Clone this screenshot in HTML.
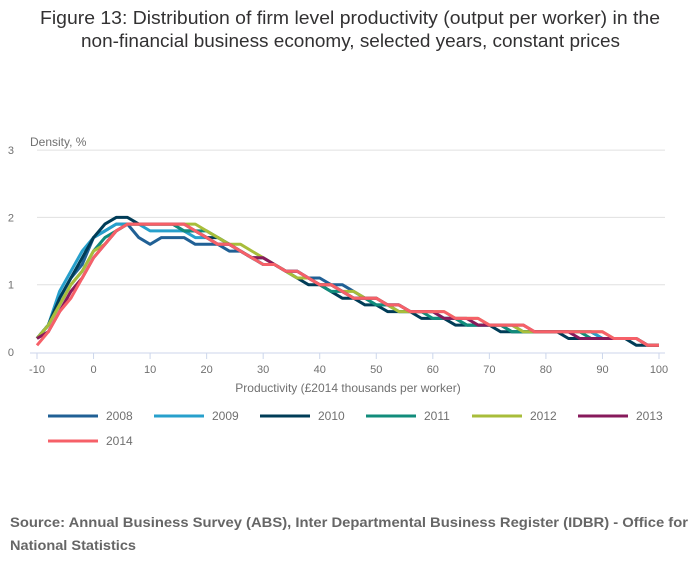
<!DOCTYPE html>
<html><head><meta charset="utf-8"><style>
body{margin:0;background:#fff;font-family:"Liberation Sans",sans-serif;}
#wrap{position:relative;width:700px;height:574px;overflow:hidden}
</style></head><body>
<div id="wrap">
<svg id="chart" width="700" height="574"></svg>
</div>
<script>
const xs=[-10,-8,-6,-4,-2,0,2,4,6,8,10,12,14,16,18,20,22,24,26,28,30,32,34,36,38,40,42,44,46,48,50,52,54,56,58,60,62,64,66,68,70,72,74,76,78,80,82,84,86,88,90,92,94,96,98,100];
const years=["2008","2009","2010","2011","2012","2013","2014"];
const colors=["#206095","#27a0cc","#003c57","#118c7b","#a8bd3a","#871a5b","#f66068"];
const s2008=[0.2,0.4,0.8,1.1,1.3,1.7,1.8,1.9,1.9,1.7,1.6,1.7,1.7,1.7,1.6,1.6,1.6,1.5,1.5,1.4,1.3,1.3,1.2,1.2,1.1,1.1,1.0,1.0,0.9,0.8,0.8,0.7,0.7,0.6,0.6,0.6,0.5,0.5,0.4,0.4,0.4,0.4,0.3,0.3,0.3,0.3,0.3,0.3,0.3,0.3,0.2,0.2,0.2,0.2,0.1,0.1];
const s2009=[0.2,0.4,0.9,1.2,1.5,1.7,1.8,1.9,1.9,1.9,1.8,1.8,1.8,1.8,1.7,1.7,1.6,1.6,1.5,1.4,1.3,1.3,1.2,1.2,1.1,1.0,1.0,0.9,0.8,0.8,0.7,0.7,0.7,0.6,0.6,0.6,0.5,0.5,0.4,0.4,0.4,0.4,0.4,0.3,0.3,0.3,0.3,0.3,0.3,0.3,0.2,0.2,0.2,0.2,0.1,0.1];
const s2010=[0.2,0.4,0.8,1.1,1.4,1.7,1.9,2.0,2.0,1.9,1.9,1.9,1.9,1.8,1.8,1.7,1.7,1.6,1.5,1.4,1.4,1.3,1.2,1.1,1.0,1.0,0.9,0.8,0.8,0.7,0.7,0.6,0.6,0.6,0.5,0.5,0.5,0.4,0.4,0.4,0.4,0.3,0.3,0.3,0.3,0.3,0.3,0.2,0.2,0.2,0.2,0.2,0.2,0.1,0.1,0.1];
const s2011=[0.2,0.4,0.7,1.0,1.2,1.5,1.7,1.8,1.9,1.9,1.9,1.9,1.9,1.8,1.8,1.8,1.7,1.6,1.5,1.4,1.3,1.3,1.2,1.1,1.1,1.0,0.9,0.9,0.8,0.8,0.7,0.7,0.6,0.6,0.6,0.5,0.5,0.5,0.4,0.4,0.4,0.4,0.3,0.3,0.3,0.3,0.3,0.3,0.3,0.2,0.2,0.2,0.2,0.2,0.1,0.1];
const s2012=[0.2,0.4,0.7,1.0,1.2,1.5,1.6,1.8,1.9,1.9,1.9,1.9,1.9,1.9,1.9,1.8,1.7,1.6,1.6,1.5,1.4,1.3,1.2,1.1,1.1,1.0,1.0,0.9,0.9,0.8,0.8,0.7,0.6,0.6,0.6,0.6,0.6,0.5,0.5,0.5,0.4,0.4,0.4,0.3,0.3,0.3,0.3,0.3,0.3,0.3,0.3,0.2,0.2,0.2,0.1,0.1];
const s2013=[0.2,0.3,0.6,0.9,1.1,1.4,1.6,1.8,1.9,1.9,1.9,1.9,1.9,1.9,1.8,1.7,1.6,1.6,1.5,1.4,1.4,1.3,1.2,1.2,1.1,1.0,1.0,0.9,0.8,0.8,0.8,0.7,0.7,0.6,0.6,0.6,0.5,0.5,0.5,0.4,0.4,0.4,0.4,0.4,0.3,0.3,0.3,0.3,0.2,0.2,0.2,0.2,0.2,0.2,0.1,0.1];
const s2014=[0.1,0.3,0.6,0.8,1.1,1.4,1.6,1.8,1.9,1.9,1.9,1.9,1.9,1.9,1.8,1.7,1.6,1.6,1.5,1.4,1.3,1.3,1.2,1.2,1.1,1.0,1.0,0.9,0.8,0.8,0.8,0.7,0.7,0.6,0.6,0.6,0.6,0.5,0.5,0.5,0.4,0.4,0.4,0.4,0.3,0.3,0.3,0.3,0.3,0.3,0.3,0.2,0.2,0.2,0.1,0.1];
const series=[s2008,s2009,s2010,s2011,s2012,s2013,s2014];
const xTicks=[-10,0,10,20,30,40,50,60,70,80,90,100];
const yTicks=[0,1,2,3];

const NS="http://www.w3.org/2000/svg";
const svg=document.getElementById('chart');
function X(v){return 37+(v+10)*(622/110);}
function Y(v){return 352-v*67.3;}
function mk(tag,attrs,parent){const e=document.createElementNS(NS,tag);for(const k in attrs)e.setAttribute(k,attrs[k]);(parent||svg).appendChild(e);return e;}
function txt(str,attrs){const t=mk('text',attrs);t.textContent=str;return t;}

let t=txt("Figure 13: Distribution of firm level productivity (output per worker) in the",{x:40,y:24,'font-size':18,fill:'#323132',textLength:620,lengthAdjust:'spacingAndGlyphs'});


t=txt("non-financial business economy, selected years, constant prices",{x:81,y:47,'font-size':18,fill:'#323132',textLength:539,lengthAdjust:'spacingAndGlyphs'});



yTicks.forEach(v=>{
  if(v>0){const g=mk('line',{x1:37,x2:665,y1:Y(v),y2:Y(v),stroke:'#e0e0e0','stroke-width':1});
  
  }
  const l=txt(String(v),{x:14,y:Y(v)+4,'text-anchor':'end','font-size':11,fill:'#707070'});
  
  
});
t=txt("Density, %",{x:30,y:146,'font-size':12,fill:'#707070'});



const ax=mk('line',{x1:30,x2:665,y1:353,y2:353,stroke:'#ccd6eb','stroke-width':1});


xTicks.forEach(v=>{
  const tk=mk('line',{x1:X(v),x2:X(v),y1:353,y2:359,stroke:'#ccd6eb'});
  
  
  const l=txt(String(v),{x:X(v),y:373,'text-anchor':'middle','font-size':11,fill:'#707070'});
  
  
});
t=txt("Productivity (£2014 thousands per worker)",{x:348,y:392,'text-anchor':'middle','font-size':12,fill:'#707070'});



series.forEach((s,i)=>{
  const d=s.map((v,j)=>(j?'L':'M')+X(xs[j]).toFixed(1)+' '+Y(v).toFixed(1)).join(' ');
  const p=mk('path',{d:d,fill:'none',stroke:colors[i],'stroke-width':3,'stroke-linejoin':'round'});
  
  
});

years.forEach((y,i)=>{
  const col=i%6,row=Math.floor(i/6);
  const lx=48+col*106,ly=416+row*25;
  const g=mk('g',{});
  
  
  mk('line',{x1:lx,x2:lx+50,y1:ly,y2:ly,stroke:colors[i],'stroke-width':3},g);
  const tt=mk('text',{x:lx+58,y:ly+4,'font-size':12,fill:'#707070'},g);tt.textContent=y;
});

t=txt("Source: Annual Business Survey (ABS), Inter Departmental Business Register (IDBR) - Office for",{x:10,y:527,'font-size':14,'font-weight':'bold',fill:'#666',textLength:678,lengthAdjust:'spacingAndGlyphs'});


t=txt("National Statistics",{x:10,y:550,'font-size':14,'font-weight':'bold',fill:'#666',textLength:126,lengthAdjust:'spacingAndGlyphs'});


</script>
</body></html>
